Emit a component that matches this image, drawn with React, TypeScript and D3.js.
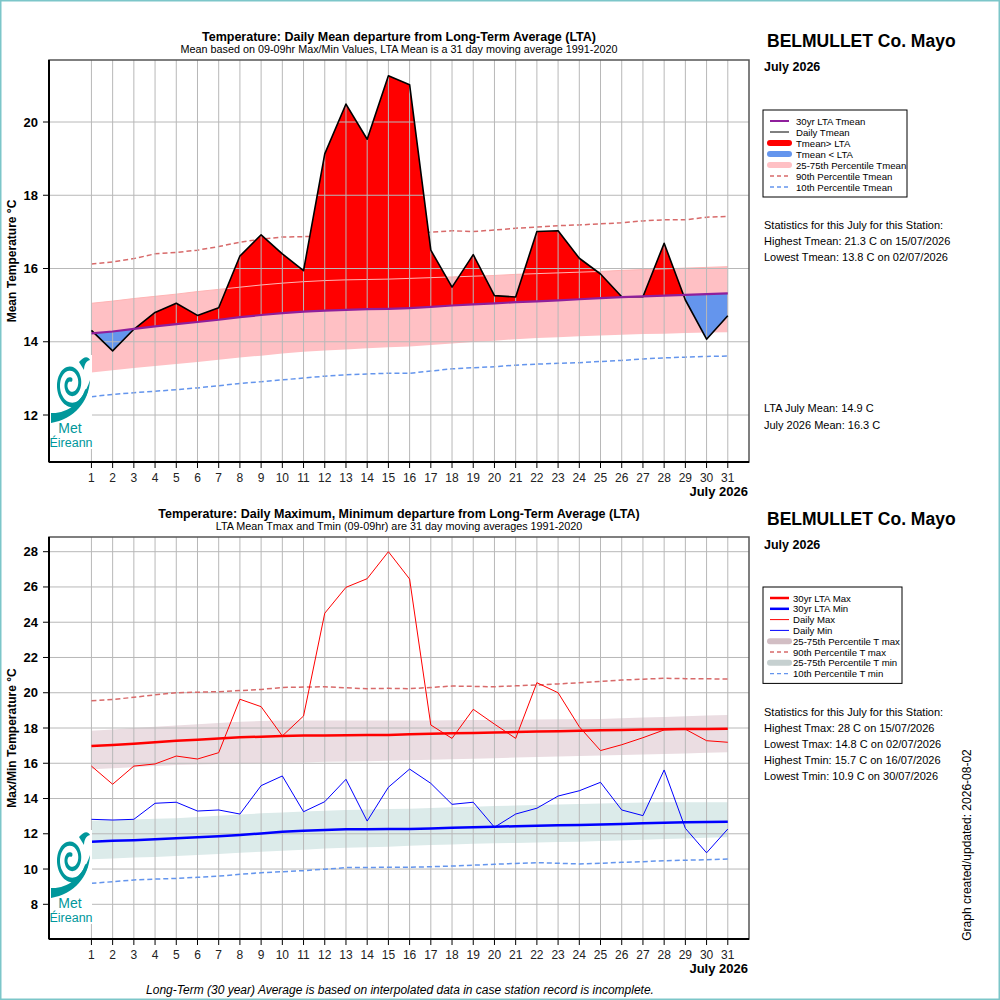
import React from 'react';
import * as d3 from 'd3';

// ---- data ----
const days = [1, 2, 3, 4, 5, 6, 7, 8, 9, 10, 11, 12, 13, 14, 15, 16, 17, 18, 19, 20, 21, 22, 23, 24, 25, 26, 27, 28, 29, 30, 31];

const tmeanDaily = [14.31, 13.75, 14.34, 14.80, 15.05, 14.72, 14.93, 16.34, 16.92, 16.40, 15.94, 19.13, 20.49, 19.53, 21.26, 21.02,
  16.50, 15.49, 16.38, 15.26, 15.22, 17.01, 17.03, 16.28, 15.85, 15.23, 15.23, 16.69, 15.14, 14.07, 14.71];
const tmeanLta = [14.23, 14.28, 14.35, 14.42, 14.48, 14.54, 14.60, 14.67, 14.73, 14.78, 14.82, 14.85, 14.87, 14.89, 14.90, 14.92,
  14.95, 14.99, 15.02, 15.05, 15.08, 15.10, 15.13, 15.16, 15.19, 15.22, 15.24, 15.26, 15.28, 15.30, 15.32];
const tmeanP75 = [15.05, 15.11, 15.18, 15.24, 15.30, 15.37, 15.43, 15.49, 15.55, 15.60, 15.64, 15.67, 15.69, 15.70, 15.71, 15.73,
  15.75, 15.77, 15.79, 15.81, 15.84, 15.86, 15.88, 15.90, 15.92, 15.95, 15.97, 15.99, 16.01, 16.03, 16.05];
const tmeanP25 = [13.16, 13.22, 13.28, 13.34, 13.39, 13.45, 13.51, 13.57, 13.62, 13.68, 13.73, 13.76, 13.79, 13.82, 13.85, 13.87,
  13.91, 13.95, 13.99, 14.03, 14.07, 14.10, 14.12, 14.15, 14.17, 14.19, 14.21, 14.22, 14.24, 14.25, 14.26];
const tmeanP90 = [16.12, 16.18, 16.27, 16.40, 16.44, 16.50, 16.60, 16.72, 16.80, 16.86, 16.87, 16.88, 16.90, 16.91, 16.93, 16.96,
  16.99, 17.03, 17.01, 17.05, 17.10, 17.13, 17.17, 17.19, 17.22, 17.25, 17.30, 17.33, 17.33, 17.40, 17.42];
const tmeanP10 = [12.50, 12.56, 12.61, 12.65, 12.69, 12.74, 12.80, 12.86, 12.91, 12.96, 13.01, 13.06, 13.10, 13.12, 13.14, 13.14,
  13.20, 13.26, 13.29, 13.32, 13.36, 13.39, 13.41, 13.43, 13.46, 13.49, 13.53, 13.56, 13.58, 13.60, 13.61];

const tmaxDaily = [15.84, 14.81, 15.84, 15.96, 16.41, 16.24, 16.60, 19.63, 19.21, 17.55, 18.68, 24.51, 25.98, 26.47, 28.0, 26.45,
  18.17, 17.41, 19.06, 18.22, 17.41, 20.57, 20.0, 18.07, 16.72, 17.05, 17.45, 17.89, 17.93, 17.28, 17.19];
const tminDaily = [12.82, 12.78, 12.82, 13.73, 13.79, 13.29, 13.35, 13.12, 14.73, 15.28, 13.25, 13.82, 15.09, 12.72, 14.64, 15.67,
  14.86, 13.67, 13.79, 12.37, 13.12, 13.45, 14.14, 14.44, 14.92, 13.35, 13.03, 15.62, 12.31, 10.92, 12.27];
const tmaxLta = [16.98, 17.03, 17.10, 17.19, 17.28, 17.34, 17.41, 17.47, 17.51, 17.55, 17.57, 17.58, 17.59, 17.60, 17.60, 17.64,
  17.67, 17.70, 17.72, 17.75, 17.77, 17.80, 17.82, 17.85, 17.87, 17.89, 17.91, 17.93, 17.94, 17.95, 17.96];
const tminLta = [11.55, 11.60, 11.64, 11.69, 11.74, 11.80, 11.86, 11.93, 12.02, 12.12, 12.17, 12.21, 12.25, 12.26, 12.27, 12.27,
  12.30, 12.34, 12.37, 12.40, 12.43, 12.45, 12.48, 12.50, 12.53, 12.56, 12.60, 12.63, 12.65, 12.67, 12.68];
const tmaxP75 = [17.85, 17.92, 18.00, 18.07, 18.14, 18.21, 18.29, 18.36, 18.39, 18.42, 18.42, 18.42, 18.42, 18.42, 18.42, 18.42,
  18.43, 18.44, 18.45, 18.46, 18.47, 18.48, 18.49, 18.50, 18.51, 18.55, 18.59, 18.63, 18.67, 18.71, 18.74];
const tmaxP25 = [15.66, 15.72, 15.78, 15.84, 15.90, 15.93, 15.96, 15.98, 16.01, 16.03, 16.05, 16.08, 16.10, 16.12, 16.14, 16.17,
  16.20, 16.23, 16.26, 16.29, 16.32, 16.35, 16.38, 16.41, 16.44, 16.47, 16.50, 16.53, 16.56, 16.59, 16.62];
const tminP75 = [12.74, 12.78, 12.81, 12.85, 12.88, 12.95, 13.02, 13.09, 13.16, 13.21, 13.26, 13.31, 13.35, 13.38, 13.40, 13.42,
  13.46, 13.50, 13.54, 13.57, 13.60, 13.63, 13.66, 13.69, 13.72, 13.74, 13.77, 13.79, 13.79, 13.79, 13.79];
const tminP25 = [10.55, 10.60, 10.65, 10.69, 10.74, 10.80, 10.86, 10.92, 10.98, 11.04, 11.10, 11.16, 11.21, 11.24, 11.27, 11.32,
  11.36, 11.39, 11.43, 11.46, 11.48, 11.50, 11.53, 11.55, 11.59, 11.62, 11.66, 11.70, 11.73, 11.77, 11.80];
const tmaxP90 = [19.55, 19.62, 19.74, 19.88, 20.00, 20.03, 20.06, 20.12, 20.19, 20.30, 20.32, 20.34, 20.28, 20.23, 20.25, 20.23,
  20.30, 20.38, 20.36, 20.34, 20.39, 20.44, 20.50, 20.57, 20.64, 20.72, 20.77, 20.82, 20.80, 20.79, 20.78];
const tminP10 = [9.19, 9.28, 9.38, 9.43, 9.47, 9.53, 9.60, 9.70, 9.79, 9.85, 9.91, 9.99, 10.08, 10.09, 10.10, 10.10,
  10.13, 10.17, 10.22, 10.27, 10.32, 10.36, 10.33, 10.29, 10.33, 10.38, 10.42, 10.47, 10.50, 10.53, 10.57];

const topTicks = [12, 14, 16, 18, 20];
const bottomTicks = [8, 10, 12, 14, 16, 18, 20, 22, 24, 26, 28];

const topLegend = [
  { label: '30yr LTA Tmean', color: '#8f1f9c', width: 2 },
  { label: 'Daily Tmean', color: '#000000', width: 1 },
  { label: 'Tmean> LTA', color: '#ff0000', width: 6 },
  { label: 'Tmean < LTA', color: '#6495ed', width: 6 },
  { label: '25-75th Percentile Tmean', color: '#ffc0c4', width: 6 },
  { label: '90th Percentile Tmean', color: '#d86a6a', width: 1.3, dash: '4,3' },
  { label: '10th Percentile Tmean', color: '#6495ed', width: 1.3, dash: '4,3' },
];
const bottomLegend = [
  { label: '30yr LTA Max', color: '#ff0000', width: 2.5 },
  { label: '30yr LTA Min', color: '#0000ff', width: 2.5 },
  { label: 'Daily Max', color: '#ff0000', width: 1 },
  { label: 'Daily Min', color: '#0000ff', width: 1 },
  { label: '25-75th Percentile T max', color: '#d2bec4', width: 6 },
  { label: '90th Percentile T max', color: '#d86a6a', width: 1.3, dash: '4,3' },
  { label: '25-75th Percentile T min', color: '#c6d0d0', width: 6 },
  { label: '10th Percentile T min', color: '#6495ed', width: 1.3, dash: '4,3' },
];

const topStats = [
  'Statistics for this July for this Station:',
  'Highest Tmean: 21.3 C on 15/07/2026',
  'Lowest Tmean: 13.8 C on 02/07/2026',
];
const topMeans = ['LTA July Mean: 14.9 C', 'July 2026 Mean: 16.3 C'];
const bottomStats = [
  'Statistics for this July for this Station:',
  'Highest Tmax: 28 C on 15/07/2026',
  'Lowest Tmax: 14.8 C on 02/07/2026',
  'Highest Tmin: 15.7 C on 16/07/2026',
  'Lowest Tmin: 10.9 C on 30/07/2026',
];

// ---- layout ----
const FONT = "'Liberation Sans', Arial, Helvetica, sans-serif";
const GRID = '#b8b8b8';
const TEAL = '#00979b';
const X0 = 49;
const X1 = 749;
const TOP = { y0: 60, y1: 462 };
const BOT = { y0: 537, y1: 939 };

const x = d3.scaleLinear().domain([-1, 32]).range([X0, X1]);
const yTop = d3.scaleLinear().domain([20, 12]).range([122, 415]);
const yBot = d3.scaleLinear().domain([28, 8]).range([551.7, 904.3]);

type Scale = d3.ScaleLinear<number, number>;

const linePath = (y: Scale, vals: number[]) =>
  d3.line<number>().x((_, i) => x(days[i])).y(v => y(v))(vals) || '';

const bandPath = (y: Scale, lo: number[], hi: number[]) =>
  d3.area<number>().x((_, i) => x(days[i])).y0((_, i) => y(lo[i])).y1((_, i) => y(hi[i]))(days) || '';

// logo swirl (decoration only)
const spiral = d3.lineRadial<number>()
  .angle(t => Math.PI * 0.6 + t * Math.PI * 3.4)
  .radius(t => 16 - t * 13)
  .curve(d3.curveBasis)(d3.range(0, 1.001, 0.02)) || '';

const Grid = ({ y, ticks, y0, y1 }: { y: Scale; ticks: number[]; y0: number; y1: number }) => (
  <g stroke={GRID} strokeWidth={1}>
    {days.map(d => <line key={'v' + d} x1={x(d)} x2={x(d)} y1={y0} y2={y1} />)}
    {ticks.map(t => <line key={'h' + t} x1={X0} x2={X1} y1={y(t)} y2={y(t)} />)}
  </g>
);

const Axes = ({ y, ticks, y0, y1, label }: { y: Scale; ticks: number[]; y0: number; y1: number; label: string }) => (
  <g fontFamily={FONT}>
    <rect x={X0} y={y0} width={X1 - X0} height={y1 - y0} fill="none" stroke="#555" strokeWidth={1.5} />
    <line x1={X0} x2={X0} y1={y0} y2={y1} stroke="#000" strokeWidth={2} />
    <line x1={X0} x2={X1} y1={y1} y2={y1} stroke="#000" strokeWidth={2} />
    {ticks.map(t => (
      <g key={t}>
        <line x1={X0 - 6} x2={X0} y1={y(t)} y2={y(t)} stroke="#000" />
        <text x={38} y={y(t) + 4.5} textAnchor="end" fontWeight="bold" fontSize={13}>{t}</text>
      </g>
    ))}
    {days.map(d => (
      <g key={d}>
        <line x1={x(d)} x2={x(d)} y1={y1} y2={y1 + 6} stroke="#000" />
        <text x={x(d)} y={y1 + 20} textAnchor="middle" fontSize={12} fill="#222">{d}</text>
      </g>
    ))}
    <text x={748} y={y1 + 34} textAnchor="end" fontWeight="bold" fontSize={13}>July 2026</text>
    <text transform={`translate(16,${(y0 + y1) / 2}) rotate(-90)`} textAnchor="middle" fontWeight="bold" fontSize={12}>{label}</text>
  </g>
);

const Legend = ({ items, x0, x1, y0, step, tx }: { items: any[]; x0: number; x1: number; y0: number; step: number; tx: number }) => {
  const h = items.length * step + 10;
  return (
    <g fontFamily={FONT} fontSize={9.6}>
      <rect x={x0} y={y0} width={x1 - x0} height={h} fill="#fff" stroke="#000" strokeWidth={1} />
      {items.map((it, i) => {
        const cy = y0 + 11 + i * step;
        return (
          <g key={it.label}>
            <line x1={770} x2={789} y1={cy} y2={cy} stroke={it.color} strokeWidth={it.width}
              strokeDasharray={it.dash} strokeLinecap={it.width > 3 ? 'round' : 'butt'} />
            <text x={tx} y={cy + 3.5}>{it.label}</text>
          </g>
        );
      })}
    </g>
  );
};

const Logo = ({ dy }: { dy: number }) => (
  <g transform={`translate(0,${dy})`}>
    <rect x={50} y={355} width={42} height={94} fill="#fff" />
    <path d={spiral} transform="translate(71,384) scale(1,1.45)" fill="none" stroke={TEAL} strokeWidth={3} strokeLinecap="round" />
    <path d="M79,362 C84,356 88,356 90,360 C86,361 84,365 84,370 Z" fill={TEAL} />
    <path d="M51,413 C66,414 82,404 90,380 C89,402 74,419 51,423 Z" fill={TEAL} />
    <text x={70} y={433} textAnchor="middle" fontFamily={FONT} fontSize={14} fill={TEAL}>Met</text>
    <text x={71} y={447} textAnchor="middle" fontFamily={FONT} fontSize={12.5} fill={TEAL}>Éireann</text>
  </g>
);

const SideText = ({ y0 }: { y0: number }) => (
  <g fontFamily={FONT} fontWeight="bold">
    <text x={767} y={y0} fontSize={17.5}>BELMULLET Co. Mayo</text>
    <text x={764} y={y0 + 24} fontSize={12.5}>July 2026</text>
  </g>
);

export default function App() {
  const aboveTop = d3.area<number>().x((_, i) => x(days[i])).y0(TOP.y0).y1(v => yTop(v))(tmeanLta) || '';
  const belowTop = d3.area<number>().x((_, i) => x(days[i])).y0(TOP.y1).y1(v => yTop(v))(tmeanLta) || '';
  const diffArea = bandPath(yTop, tmeanLta, tmeanDaily);

  return (
    <div style={{ position: 'absolute', left: 0, top: 0 }}>
      <svg width={1000} height={1000} viewBox="0 0 1000 1000" style={{ display: 'block' }}>
        <defs>
          <clipPath id="above"><path d={aboveTop} /></clipPath>
          <clipPath id="below"><path d={belowTop} /></clipPath>
        </defs>
        <rect x={0} y={0} width={1000} height={1000} fill="#fff" />

        {/* ---------- top panel ---------- */}
        <g fontFamily={FONT} textAnchor="middle">
          <text x={399} y={41} fontWeight="bold" fontSize={12.5}>Temperature: Daily Mean departure from Long-Term Average (LTA)</text>
          <text x={399} y={53} fontSize={10.8}>Mean based on 09-09hr Max/Min Values, LTA Mean is a 31 day moving average 1991-2020</text>
        </g>
        <path d={bandPath(yTop, tmeanP25, tmeanP75)} fill="#ffc0c4" />
        <path d={linePath(yTop, tmeanP90)} fill="none" stroke="#d86a6a" strokeWidth={1.5} strokeDasharray="5,3" />
        <path d={linePath(yTop, tmeanP10)} fill="none" stroke="#6495ed" strokeWidth={1.5} strokeDasharray="5,3" />
        <path d={diffArea} fill="#ff0000" clipPath="url(#above)" />
        <path d={diffArea} fill="#6495ed" clipPath="url(#below)" />
        <path d={linePath(yTop, tmeanP75)} fill="none" stroke="#ffb4b4" strokeWidth={1} />
        <Grid y={yTop} ticks={topTicks} y0={TOP.y0} y1={TOP.y1} />
        <path d={linePath(yTop, tmeanDaily)} fill="none" stroke="#000" strokeWidth={1.6} strokeLinejoin="round" />
        <path d={linePath(yTop, tmeanLta)} fill="none" stroke="#8f1f9c" strokeWidth={2.2} />
        <Axes y={yTop} ticks={topTicks} y0={TOP.y0} y1={TOP.y1} label="Mean Temperature °C" />
        <Logo dy={0} />
        <SideText y0={47} />
        <Legend items={topLegend} x0={763} x1={907} y0={110} step={11} tx={796} />
        <g fontFamily={FONT} fontSize={11}>
          {topStats.map((s, i) => <text key={s} x={764} y={229 + i * 16}>{s}</text>)}
          {topMeans.map((s, i) => <text key={s} x={764} y={412 + i * 17}>{s}</text>)}
        </g>

        {/* ---------- bottom panel ---------- */}
        <g fontFamily={FONT} textAnchor="middle">
          <text x={399} y={518} fontWeight="bold" fontSize={12.5}>Temperature: Daily Maximum, Minimum departure from Long-Term Average (LTA)</text>
          <text x={399} y={530} fontSize={10.8}>LTA Mean Tmax and Tmin (09-09hr) are 31 day moving averages 1991-2020</text>
        </g>
        <path d={bandPath(yBot, tmaxP25, tmaxP75)} fill="#ebdde2" />
        <path d={bandPath(yBot, tminP25, tminP75)} fill="#dcebea" />
        <Grid y={yBot} ticks={bottomTicks} y0={BOT.y0} y1={BOT.y1} />
        <path d={linePath(yBot, tmaxP90)} fill="none" stroke="#d86a6a" strokeWidth={1.5} strokeDasharray="5,3" />
        <path d={linePath(yBot, tminP10)} fill="none" stroke="#6495ed" strokeWidth={1.5} strokeDasharray="5,3" />
        <path d={linePath(yBot, tmaxLta)} fill="none" stroke="#ff0000" strokeWidth={2.5} />
        <path d={linePath(yBot, tminLta)} fill="none" stroke="#0000ff" strokeWidth={2.5} />
        <path d={linePath(yBot, tmaxDaily)} fill="none" stroke="#ff0000" strokeWidth={1} />
        <path d={linePath(yBot, tminDaily)} fill="none" stroke="#0000ff" strokeWidth={1} />
        <Axes y={yBot} ticks={bottomTicks} y0={BOT.y0} y1={BOT.y1} label="Max/Min Temperature °C" />
        <Logo dy={475} />
        <SideText y0={525} />
        <Legend items={bottomLegend} x0={763} x1={902} y0={587} step={10.8} tx={793} />
        <g fontFamily={FONT} fontSize={11}>
          {bottomStats.map((s, i) => <text key={s} x={764} y={716 + i * 16}>{s}</text>)}
        </g>
        <text transform="translate(971,845) rotate(-90)" textAnchor="middle" fontFamily={FONT} fontSize={12}>
          Graph created/updated:  2026-08-02
        </text>
        <text x={400} y={994} textAnchor="middle" fontFamily={FONT} fontSize={12} fontStyle="italic">
          Long-Term (30 year) Average is based on interpolated data in case station record is incomplete.
        </text>

        <rect x={0.75} y={0.75} width={998.5} height={998.5} fill="none" stroke="#7cc6c9" strokeWidth={1.5} />
      </svg>
    </div>
  );
}
